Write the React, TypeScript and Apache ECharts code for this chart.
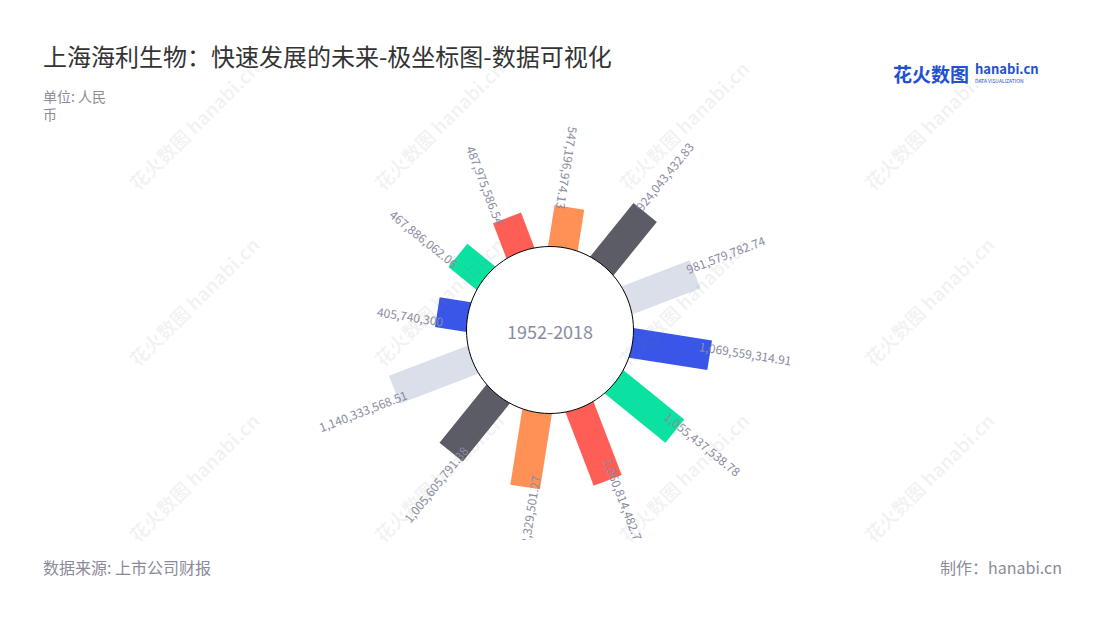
import React, { useEffect, useRef } from "react";
import * as echarts from "echarts";

const CATEGORIES = ["2007", "2008", "2009", "2010", "2011", "2012", "2013", "2014", "2015", "2016", "2017", "2018"];
const VALUES = [
  405740300, 467886062.06, 487975586.54, 547196974.13, 924043432.83, 981579782.74,
  1069559314.91, 1055437538.78, 1060814482.7, 1032329501.27, 1005605791.38, 1140333568.51,
];
const TITLE = "上海海利生物：快速发展的未来-极坐标图-数据可视化";
const UNIT_LINES = ["单位: 人民", "币"];
const CENTER_TEXT = "1952-2018";
const SOURCE = "数据来源: 上市公司财报";
const MAKER = "制作：hanabi.cn";

const PALETTE = ["#3A56E8", "#0BE2A2", "#FF5E56", "#FF9157", "#5B5C66", "#DBDFEA"];
const FONT = "'Noto Sans CJK SC', 'Noto Sans', sans-serif";
const LABEL_COLOR = "#8a8ca0";

function fmt(v: number) {
  return v.toLocaleString("en-US", { maximumFractionDigits: 2 });
}

export default function App() {
  const ref = useRef<HTMLDivElement>(null);
  useEffect(() => {
    const chart = echarts.init(ref.current!, null, { renderer: "svg" });

    const watermarks: any[] = [];
    for (let r = 0; r < 3; r++) {
      for (let c = 0; c < 4; c++) {
        watermarks.push({
          type: "text",
          x: 132 + 245 * c,
          y: 186 + 176 * r,
          rotation: 0.78,
          silent: true,
          z: 40,
          style: {
            text: "花火数图 hanabi.cn",
            fontSize: 19,
            fontWeight: "bold",
            fontFamily: FONT,
            fill: "rgba(120,120,130,0.09)",
            textAlign: "left",
            textVerticalAlign: "middle",
          },
        });
      }
    }

    const option: any = {
      animation: false,
      backgroundColor: "#fff",
      polar: { center: [550, 330], radius: [85, 171] },
      angleAxis: {
        type: "category",
        data: CATEGORIES,
        startAngle: 186,
        show: false,
      },
      radiusAxis: {
        type: "value",
        min: 0,
        max: 1200000000,
        show: false,
      },
      series: [
        {
          type: "custom",
          coordinateSystem: "polar",
          encode: { radius: 0, angle: 1 },
          data: VALUES.map((v, i) => [v, i]),
          renderItem: (params: any, api: any) => {
            const cs = params.coordSys;
            const cx = cs.cx;
            const cy = cs.cy;
            const val = api.value(0);
            const cat = api.value(1);
            const p = api.coord([val, cat]);
            const dx = p[0] - cx;
            const dy = p[1] - cy;
            const len = Math.hypot(dx, dy);
            const ux = dx / len;
            const uy = dy / len;
            const nx = -uy;
            const ny = ux;
            const hw = 15;
            const r0 = cs.r0 - 14;
            const sx = cx + ux * r0;
            const sy = cy + uy * r0;
            const color = PALETTE[params.dataIndex % PALETTE.length];
            // clockwise angle from top
            let a = (Math.atan2(ux, -uy) * 180) / Math.PI;
            if (a < 0) a += 360;
            const outward = a > 20 && a < 185;
            const rot = outward ? Math.atan2(-uy, ux) : Math.atan2(uy, -ux);
            // counter-clockwise perpendicular (screen)
            const px = uy;
            const py = -ux;
            const inset = outward ? 10 + 11 * uy : 8 + 5 * uy;
            const lr = len - inset;
            const lx = cx + ux * lr + px * 8;
            const ly = cy + uy * lr + py * 8;
            return {
              type: "group",
              children: [
                {
                  type: "polygon",
                  shape: {
                    points: [
                      [sx + nx * hw, sy + ny * hw],
                      [p[0] + nx * hw, p[1] + ny * hw],
                      [p[0] - nx * hw, p[1] - ny * hw],
                      [sx - nx * hw, sy - ny * hw],
                    ],
                  },
                  style: { fill: color },
                },
                {
                  type: "text",
                  x: lx,
                  y: ly,
                  rotation: rot,
                  style: {
                    text: fmt(val),
                    fontSize: 12,
                    fontFamily: FONT,
                    fill: LABEL_COLOR,
                    textAlign: outward ? "left" : "right",
                    textVerticalAlign: "middle",
                  },
                },
              ],
            };
          },
        },
      ],
      graphic: [
        {
          type: "circle",
          shape: { cx: 550, cy: 330, r: 83.5 },
          style: { fill: "#fff", stroke: "#000", lineWidth: 1 },
          z: 10,
        },
        {
          type: "text",
          x: 550,
          y: 331,
          z: 11,
          style: {
            text: CENTER_TEXT,
            fontSize: 18,
            fontFamily: FONT,
            fill: "#8a8ca0",
            textAlign: "center",
            textVerticalAlign: "middle",
          },
        },
        {
          type: "rect",
          shape: { x: 0, y: 540, width: 1100, height: 80 },
          style: { fill: "#fff" },
          z: 20,
        },
        {
          type: "text",
          x: 43,
          y: 55,
          z: 21,
          style: {
            text: TITLE,
            fontSize: 24,
            fontFamily: FONT,
            fill: "#333",
            textAlign: "left",
            textVerticalAlign: "middle",
          },
        },
        ...UNIT_LINES.map((t, i) => ({
          type: "text",
          x: 43,
          y: 96 + i * 18,
          z: 21,
          style: {
            text: t,
            fontSize: 14,
            fontFamily: FONT,
            fill: "#8d8d9a",
            textAlign: "left",
            textVerticalAlign: "middle",
          },
        })),
        {
          type: "text",
          x: 43,
          y: 567,
          z: 21,
          style: {
            text: SOURCE,
            fontSize: 16,
            fontFamily: FONT,
            fill: "#8a8a99",
            textAlign: "left",
            textVerticalAlign: "middle",
          },
        },
        {
          type: "text",
          x: 1062,
          y: 567,
          z: 21,
          style: {
            text: MAKER,
            fontSize: 16,
            fontFamily: FONT,
            fill: "#8a8a99",
            textAlign: "right",
            textVerticalAlign: "middle",
          },
        },
        {
          type: "text",
          x: 893,
          y: 73,
          z: 21,
          style: {
            text: "花火数图",
            fontSize: 19,
            fontWeight: "bold",
            fontFamily: FONT,
            fill: "#2350d0",
            textAlign: "left",
            textVerticalAlign: "middle",
          },
        },
        {
          type: "text",
          x: 975,
          y: 68,
          z: 21,
          style: {
            text: "hanabi.cn",
            fontSize: 13,
            fontWeight: "bold",
            fontFamily: FONT,
            fill: "#2350d0",
            textAlign: "left",
            textVerticalAlign: "middle",
          },
        },
        {
          type: "text",
          x: 975,
          y: 80,
          z: 21,
          style: {
            text: "DATA VISUALIZATION",
            fontSize: 5,
            fontFamily: FONT,
            fill: "#2350d0",
            textAlign: "left",
            textVerticalAlign: "middle",
          },
        },
        ...watermarks,
      ],
    };
    chart.setOption(option);
    return () => chart.dispose();
  }, []);
  return (
    <div
      ref={ref}
      style={{ position: "absolute", left: 0, top: 0, width: 1100, height: 620 }}
    />
  );
}
